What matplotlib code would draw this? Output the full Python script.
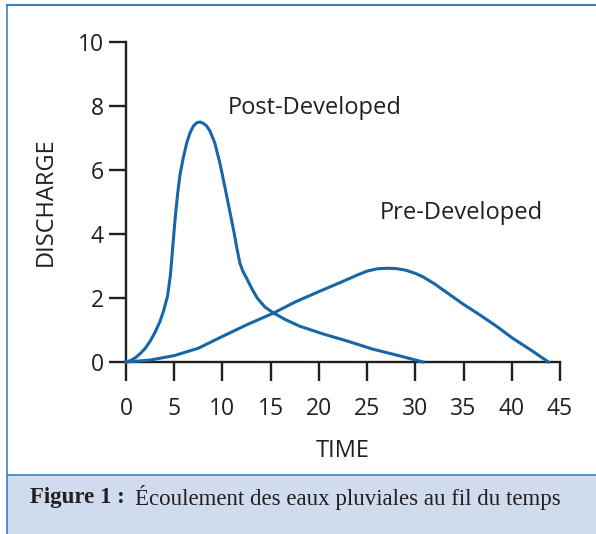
import matplotlib.pyplot as plt
from matplotlib.patches import Rectangle

# time (x) and discharge (y)
post_t = [0, 0.5, 1, 1.5, 2, 2.5, 3, 3.5, 3.9, 4.3, 4.6, 4.85, 5.1, 5.35, 5.6, 5.95, 6.3,
          6.65, 7.0, 7.35, 7.7, 8.0, 8.35, 8.7, 9.2, 9.75, 10.3, 10.8, 11.2, 11.5,
          11.8, 12.1, 12.5, 13.0, 13.6, 14.4, 15.3, 16.5, 18, 20.4, 23, 25.6, 28, 30.8]
post_q = [0, 0.05, 0.14, 0.27, 0.43, 0.65, 0.92, 1.25, 1.6, 2.05, 2.7, 3.6, 4.5, 5.25, 5.85,
          6.4, 6.85, 7.17, 7.38, 7.48, 7.5, 7.46, 7.38, 7.22, 6.85, 6.2, 5.4, 4.65, 4.05, 3.55,
          3.1, 2.85, 2.62, 2.32, 2.0, 1.72, 1.53, 1.33, 1.12, 0.88, 0.65, 0.4, 0.22, 0]

pre_t = [0, 2.5, 5, 7.5, 10, 12.5, 15.3, 17.5, 20, 22.5, 24, 25, 26, 27, 28, 29, 30, 30.8,
         32, 33.5, 35, 36.7, 38.5, 40.1, 42, 43.8]
pre_q = [0, 0.06, 0.2, 0.43, 0.8, 1.16, 1.53, 1.87, 2.2, 2.52, 2.72, 2.84, 2.91, 2.93, 2.92,
         2.87, 2.77, 2.66, 2.44, 2.12, 1.8, 1.47, 1.1, 0.74, 0.37, 0]

x_ticks = [0, 5, 10, 15, 20, 25, 30, 35, 40, 45]
y_ticks = [0, 2, 4, 6, 8, 10]

blue = '#1767a8'
frame = '#3b82bd'
ink = '#231f20'
sans = 'Open Sans'
serif = 'Liberation Serif'

fig = plt.figure(figsize=(5.96, 5.34), dpi=100)

# frame and caption band
fig.patches.append(Rectangle((7 / 596, 0), 589 / 596, 59 / 534, transform=fig.transFigure,
                             facecolor='#d0dcee', edgecolor='none', zorder=0))
fig.add_artist(plt.Line2D([7 / 596, 7 / 596], [0, 529 / 534], color=frame, lw=1.2))
fig.add_artist(plt.Line2D([7 / 596, 1], [529 / 534, 529 / 534], color=frame, lw=1.5))
fig.add_artist(plt.Line2D([7 / 596, 1], [59 / 534, 59 / 534], color=frame, lw=1.2))

ax = fig.add_axes([126 / 596, 172 / 534, 434 / 596, 320 / 534])
ax.plot(post_t, post_q, color=blue, lw=2.2, clip_on=False, zorder=3, solid_joinstyle='round')
ax.plot(pre_t, pre_q, color=blue, lw=2.2, clip_on=False, zorder=3, solid_joinstyle='round')

ax.set_xlim(0, 45)
ax.set_ylim(0, 10)
ax.set_xticks(x_ticks)
ax.set_yticks(y_ticks)
for s in ['top', 'right']:
    ax.spines[s].set_visible(False)
for s in ['left', 'bottom']:
    ax.spines[s].set_linewidth(1.7)
    ax.spines[s].set_color(ink)
ax.tick_params(direction='out', width=1.7, color=ink, labelsize=16.5, labelcolor=ink)
ax.tick_params(axis='x', length=14, pad=11)
ax.tick_params(axis='y', length=12, pad=4)
for lab in ax.get_xticklabels() + ax.get_yticklabels():
    lab.set_family(sans)

ax.set_xlabel('TIME', fontsize=17, family=sans, color=ink, labelpad=13)
ax.set_ylabel('DISCHARGE', fontsize=17, family=sans, color=ink, labelpad=14)

fig.text(228 / 596, (534 - 108) / 534, 'Post-Developed', fontsize=17,
         family=sans, color=ink, va='center', ha='left')
fig.text(380 / 596, (534 - 213) / 534, 'Pre-Developed', fontsize=17,
         family=sans, color=ink, va='center', ha='left')

cap_y = (534 - 497) / 534
fig.text(30 / 596, cap_y, 'Figure 1 :', fontsize=16.5, family=serif,
         weight='bold', color=ink, va='center', ha='left')
fig.text(135 / 596, cap_y, 'Écoulement des eaux pluviales au fil du temps',
         fontsize=16.5, family=serif, color=ink, va='center', ha='left')

fig.savefig('out.png', dpi=100)
